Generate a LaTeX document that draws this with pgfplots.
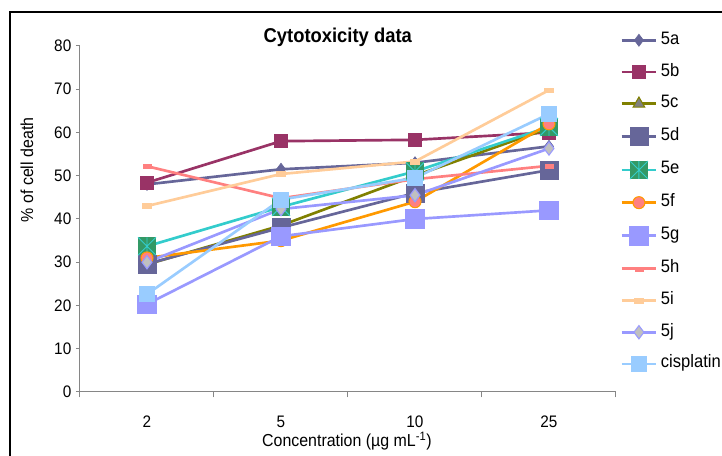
\documentclass[border=0pt]{standalone}
\usepackage{pgfplots}
\usepackage{pgfplotstable}
\pgfplotsset{compat=1.18}
\usepackage{fontspec}
\setmainfont{Liberation Sans}[FakeStretch=0.92]

\definecolor{ca}{HTML}{666699}
\definecolor{cb}{HTML}{993366}
\definecolor{cc}{HTML}{808000}
\definecolor{ccfill}{HTML}{808080}
\definecolor{ce}{HTML}{33CCCC}
\definecolor{cefill}{HTML}{339966}
\definecolor{cf}{HTML}{FF9900}
\definecolor{cffill}{HTML}{FF8080}
\definecolor{cg}{HTML}{9999FF}
\definecolor{ch}{HTML}{FF8080}
\definecolor{ci}{HTML}{FFCC99}
\definecolor{cjfill}{HTML}{C0C0C0}
\definecolor{ccis}{HTML}{99CCFF}
\definecolor{axgray}{HTML}{868686}

\pgfdeclareplotmark{sqast}{%
 \pgfpathrectangle{\pgfqpoint{-\pgfplotmarksize}{-\pgfplotmarksize}}{\pgfqpoint{2\pgfplotmarksize}{2\pgfplotmarksize}}%
 \pgfsetfillcolor{cefill}\pgfusepathqfill
 \pgfsetstrokecolor{ce}\pgfsetlinewidth{0.7pt}%
 \pgfpathmoveto{\pgfqpoint{0pt}{-\pgfplotmarksize}}\pgfpathlineto{\pgfqpoint{0pt}{\pgfplotmarksize}}%
 \pgfpathmoveto{\pgfqpoint{-\pgfplotmarksize}{\pgfplotmarksize}}\pgfpathlineto{\pgfqpoint{\pgfplotmarksize}{-\pgfplotmarksize}}%
 \pgfpathmoveto{\pgfqpoint{-\pgfplotmarksize}{-\pgfplotmarksize}}\pgfpathlineto{\pgfqpoint{\pgfplotmarksize}{\pgfplotmarksize}}%
 \pgfusepathqstroke
}

\pgfplotstableread{
x a b c d e f g h i j cis
0 48.0 48.4 29.5 29.6 33.7 31.0 20.3 52.2 43.0 30.0 22.6
1 51.5 58.0 38.5 38.0 42.8 35.0 36.0 44.8 50.4 42.3 44.5
2 53.0 58.3 50.0 46.0 51.0 44.0 40.0 49.2 53.3 45.5 49.5
3 56.8 60.0 61.0 51.3 61.3 62.0 42.0 52.3 69.8 56.3 64.3
}\data

\begin{document}
\begin{tikzpicture}
\path[use as bounding box] (0,0) rectangle (541.5pt,342pt);
\draw[line width=1.5pt] (7.5pt,-5pt) -- (7.5pt,333pt) -- (550pt,333pt);
\begin{axis}[
  scale only axis, width=402pt, height=259.5pt,
  at={(60pt,48pt)}, anchor=south west,
  xmin=-0.5, xmax=3.5, ymin=0, ymax=80,
  axis x line=bottom, axis y line=left,
  axis line style={-, axgray, line width=0.75pt},
  xtick={0,1,2,3}, xticklabels={2,5,10,25},
  minor xtick={-0.5,0.5,1.5,2.5,3.5},
  ytick={0,10,...,80},
  tick align=outside,
  tick style={axgray, line width=0.75pt},
  major x tick style={draw=none},
  major tick length=3pt, minor tick length=4pt,
  /pgf/number format/assume math mode=true,
  ticklabel style={font=\fontsize{12.5}{14}\selectfont, black},
  xticklabel style={yshift=-11.5pt},
  title={\textbf{Cytotoxicity data}},
  title style={at={(axis description cs:0.481,1.026)}, anchor=center, yshift=-6pt, font=\fontsize{15}{17}\selectfont},
  xlabel={Concentration (µg mL\textsuperscript{-1})},
  xlabel style={at={(axis description cs:0.498,-0.142)}, anchor=center, font=\fontsize{13}{15}\selectfont},
  ylabel={\% of cell death},
  ylabel style={at={(axis description cs:-0.099,0.642)}, anchor=center, font=\fontsize{13}{15}\selectfont},
  legend style={at={(1,1)}, anchor=north west, xshift=3pt, yshift=10.5pt,
    draw=none, fill=none, inner sep=0pt, row sep=11.8pt, column sep=2.5pt,
    font=\fontsize{13.5}{15}\selectfont,
    nodes={inner sep=0pt, text height=9pt, text depth=3pt}},
  legend cell align=left,
  legend image code/.code={\draw[mark repeat=2,mark phase=2,#1] plot coordinates {(0pt,0pt) (13pt,0pt) (26pt,0pt)};},
  every axis plot/.append style={line width=2pt},
]
\addplot[color=ca, mark=diamond*, mark size=4.5pt, mark options={fill=ca, line width=0.5pt}] table[x=x,y=a]{\data};
\addlegendentry{5a}
\addplot[color=cb, mark=square*, mark size=4.9pt, mark options={fill=cb, line width=0.5pt}] table[x=x,y=b]{\data};
\addlegendentry{5b}
\addplot[color=cc, mark=triangle*, mark size=5pt, mark options={fill=ccfill, draw=cc, line width=0.8pt}] table[x=x,y=c]{\data};
\addlegendentry{5c}
\addplot[color=ca, mark=square*, mark size=6.7pt, mark options={fill=ca, line width=0.5pt}] table[x=x,y=d]{\data};
\addlegendentry{5d}
\addplot[color=ce, mark=sqast, mark size=6.7pt] table[x=x,y=e]{\data};
\addlegendentry{5e}
\addplot[color=cf, mark=*, mark size=4.5pt, mark options={fill=cffill, draw=cf, line width=0.8pt}] table[x=x,y=f]{\data};
\addlegendentry{5f}
\addplot[color=cg, mark=square*, mark size=7pt, mark options={fill=cg, line width=0.5pt}] table[x=x,y=g]{\data};
\addlegendentry{5g}
\addplot[color=ch, mark=square*, mark size=3pt, mark options={fill=ch, yscale=0.5, line width=0.3pt}] table[x=x,y=h]{\data};
\addlegendentry{5h}
\addplot[color=ci, mark=square*, mark size=3.5pt, mark options={fill=ci, yscale=0.5, line width=0.3pt}] table[x=x,y=i]{\data};
\addlegendentry{5i}
\addplot[color=cg, mark=diamond*, mark size=5pt, mark options={fill=cjfill, draw=cg, line width=0.8pt}] table[x=x,y=j]{\data};
\addlegendentry{5j}
\addplot[color=ccis, mark=square*, mark size=5.6pt, mark options={fill=ccis, line width=0.5pt}] table[x=x,y=cis]{\data};
\addlegendentry{cisplatin}
\end{axis}
\end{tikzpicture}
\end{document}
